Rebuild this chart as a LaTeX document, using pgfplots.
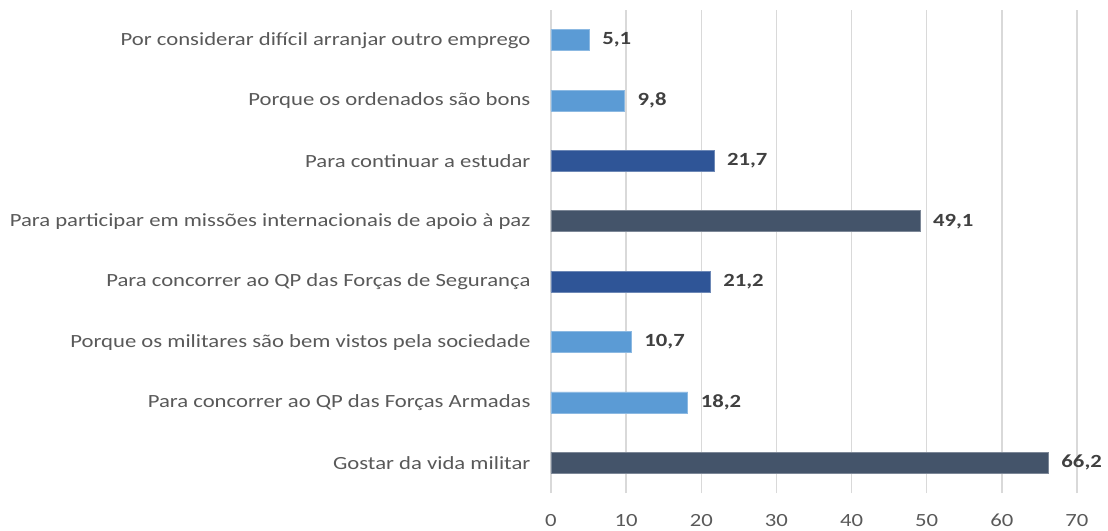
\documentclass[border=0pt]{standalone}
\usepackage{pgfplots}
\pgfplotsset{compat=1.18}
\usepackage{fontspec}
\setmainfont{Carlito}[FakeStretch=1.22]
\definecolor{lightbar}{HTML}{5B9BD5}
\definecolor{darkbar}{HTML}{2F5597}
\definecolor{slatebar}{HTML}{44546A}
\definecolor{gridgray}{HTML}{D9D9D9}
\definecolor{labelgray}{HTML}{595959}
\definecolor{valgray}{HTML}{404040}

\begin{document}
\begin{tikzpicture}
\begin{axis}[
  scale only axis, width=263pt, height=241.5pt,
  xmin=0, xmax=70, ymin=-0.5, ymax=7.5,
  xbar, bar width=10.5pt, bar shift=0pt,
  axis line style={draw=none}, tick style={draw=none},
  xmajorgrids, grid style={gridgray, line width=0.7pt},
  xtick={0,10,...,70},
  ytick={0,...,7},
  yticklabels={Gostar da vida militar,
    Para concorrer ao QP das Forças Armadas,
    Porque os militares são bem vistos pela sociedade,
    Para concorrer ao QP das Forças de Segurança,
    Para participar em missões internacionais de apoio à paz,
    Para continuar a estudar,
    Porque os ordenados são bons,
    Por considerar difícil arranjar outro emprego},
  yticklabel style={font=\fontsize{9.3}{11}\selectfont, text=labelgray, xshift=-2.5pt},
  xticklabel style={font=\fontsize{9.3}{11}\selectfont, text=labelgray, yshift=-7pt},
  /pgf/number format/assume math mode=true,
  nodes near coords,
  nodes near coords style={font=\bfseries\fontsize{9.3}{11}\selectfont, text=valgray, anchor=west, xshift=3pt,
    /pgf/number format/.cd, use comma, fixed, fixed zerofill, precision=1, assume math mode=true},
]
\addplot[fill=lightbar, draw=lightbar!70!white] coordinates {(18.2,1) (10.7,2) (9.8,6) (5.1,7)};
\addplot[fill=darkbar, draw=darkbar!70!white] coordinates {(21.2,3) (21.7,5)};
\addplot[fill=slatebar, draw=slatebar!70!white] coordinates {(66.2,0) (49.1,4)};
\end{axis}
\pgfresetboundingbox
\useasboundingbox (-275.5pt,-18.5pt) rectangle (278.5pt,246.5pt);
\end{tikzpicture}
\end{document}
